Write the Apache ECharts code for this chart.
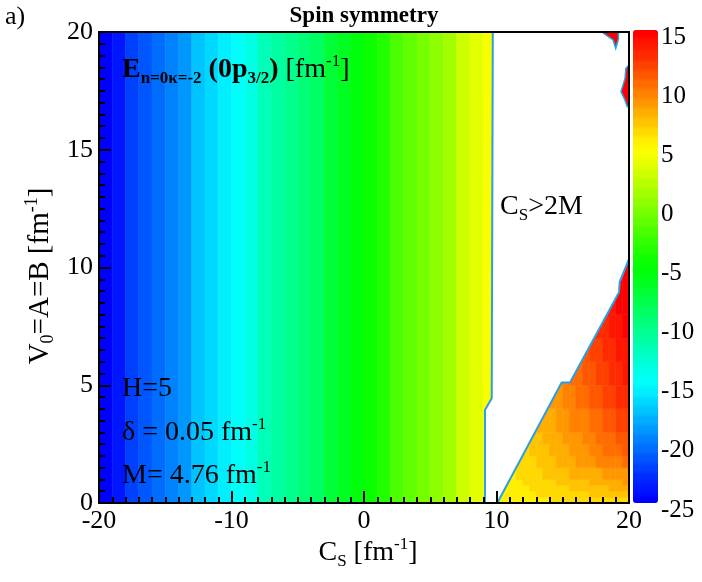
<!DOCTYPE html>
<html>
<head>
<meta charset="utf-8">
<title>Spin symmetry</title>
<script src="https://cdn.jsdelivr.net/npm/echarts@6/dist/echarts.min.js"></script>
<style>
  html, body { margin: 0; padding: 0; background: #fff; }
  #chart { width: 702px; height: 582px; }
</style>
</head>
<body>
<div id="chart"></div>
<script>
// left part: one column per fm^-1, energy read at the column centre
const leftEdges = [-20, -19, -18, -17, -16, -15, -14, -13, -12, -11, -10, -9, -8, -7, -6, -5, -4, -3, -2, -1,
  0, 1, 2, 3, 4, 5, 6, 7, 8, 9, 10];
const leftVals = [-24.5, -23.5, -22.4, -21.4, -20.4, -19.5, -18.4, -17.4, -16.4, -15.5, -14.5, -13.4, -12.4, -11.4, -10.5,
  -9.5, -8.4, -7.4, -6.4, -5.5, -4.5, -3.4, -2.4, -1.4, -0.5, 0.5, 1.6, 2.6, 3.6, 4.4];

// right border of the left part (x as a function of y)
const leftBorderY = [0, 3.95, 4.45, 20];
const leftBorderX = [9.13, 9.13, 9.64, 9.72];

// lower right wedge: columns of 0.5 fm^-1, rows bottom to top
const wedgeEdgesX = [10, 10.5, 11, 11.5, 12, 12.5, 13, 13.5, 14, 14.5, 15, 15.5, 16, 16.5, 17, 17.5, 18, 18.5, 19, 19.5, 20];
const wedgeEdgesY = [0, 0.25, 0.5, 0.75, 1, 1.5, 2, 2.5, 3, 4, 5, 6, 7, 8, 10.5];
const wedgeVals = [
  [5.3, 5.4, 5.4, 5.5, 5.6, 5.6, 5.7, 5.8, 5.9, 5.9, 6.0, 6.1, 6.1, 6.2, 6.3, 6.3, 6.4, 6.5, 6.5, 6.6],
  [5.3, 5.4, 5.5, 5.6, 5.7, 5.8, 5.9, 6.0, 6.1, 6.2, 6.3, 6.4, 6.5, 6.6, 6.7, 6.8, 6.9, 7.0, 7.1, 7.2],
  [5.3, 5.4, 5.6, 5.7, 5.8, 6.0, 6.1, 6.2, 6.4, 6.5, 6.6, 6.7, 6.9, 7.0, 7.1, 7.3, 7.4, 7.5, 7.7, 7.8],
  [5.3, 5.5, 5.6, 5.8, 6.0, 6.1, 6.3, 6.4, 6.6, 6.8, 6.9, 7.1, 7.2, 7.4, 7.6, 7.7, 7.9, 8.0, 8.2, 8.4],
  [5.3, 5.5, 5.7, 5.9, 6.1, 6.3, 6.5, 6.7, 6.9, 7.1, 7.3, 7.5, 7.7, 7.9, 8.1, 8.3, 8.5, 8.7, 8.9, 9.1],
  [5.3, 5.6, 5.8, 6.1, 6.3, 6.6, 6.9, 7.1, 7.4, 7.6, 7.9, 8.1, 8.4, 8.6, 8.9, 9.2, 9.4, 9.7, 9.9, 10.2],
  [5.3, 5.6, 5.9, 6.2, 6.5, 6.8, 7.1, 7.4, 7.7, 8.0, 8.3, 8.5, 8.8, 9.1, 9.4, 9.7, 10.0, 10.3, 10.6, 10.9],
  [5.3, 5.7, 6.0, 6.3, 6.6, 6.9, 7.2, 7.6, 7.9, 8.2, 8.5, 8.8, 9.1, 9.5, 9.8, 10.1, 10.4, 10.7, 11.1, 11.4],
  [5.3, 5.7, 6.1, 6.4, 6.8, 7.1, 7.5, 7.8, 8.2, 8.5, 8.9, 9.2, 9.6, 9.9, 10.3, 10.7, 11.0, 11.4, 11.7, 12.1],
  [5.3, 5.7, 6.1, 6.5, 6.9, 7.3, 7.7, 8.1, 8.5, 8.9, 9.3, 9.7, 10.1, 10.5, 10.9, 11.3, 11.7, 12.1, 12.5, 12.9],
  [5.3, 5.8, 6.2, 6.6, 7.1, 7.5, 7.9, 8.4, 8.8, 9.2, 9.7, 10.1, 10.5, 11.0, 11.4, 11.8, 12.3, 12.7, 13.1, 13.6],
  [5.4, 5.8, 6.3, 6.7, 7.2, 7.7, 8.1, 8.6, 9.0, 9.5, 10.0, 10.4, 10.9, 11.3, 11.8, 12.3, 12.7, 13.2, 13.6, 14.1],
  [5.4, 5.8, 6.3, 6.8, 7.3, 7.7, 8.2, 8.7, 9.2, 9.6, 10.1, 10.6, 11.1, 11.6, 12.0, 12.5, 13.0, 13.5, 13.9, 14.4],
  [5.4, 5.9, 6.4, 6.9, 7.4, 7.9, 8.4, 8.9, 9.4, 9.9, 10.4, 10.9, 11.4, 11.9, 12.4, 12.9, 13.4, 13.9, 14.4, 14.9]
];
// upper border of the wedge (y as a function of x)
const wedgeTopX = [10.06, 14.92, 15.55, 19.25, 19.3, 19.45, 20];
const wedgeTopY = [0, 5.12, 5.12, 8.95, 9.4, 9.47, 10.35];

// small spots near the top right corner
const spot1X = [17.94, 18.44, 18.8, 19.0, 19.2, 19.2];
const spot1Y = [20, 19.8, 19.66, 19.3, 19.7, 20];
const spot2X = [20, 19.77, 19.7, 19.4, 19.7, 19.87, 20];
const spot2Y = [18.6, 18.46, 18.03, 17.47, 17.1, 16.83, 16.8];
const spotVals = [14.6, 14.6];

const rainbow = ['#0000ff', '#00ffff', '#00ff00', '#ffff00', '#ff0000'];
const levels = 48;
const serif = "'Liberation Serif', 'Times New Roman', Times, serif";

// same colour steps as the map, repeated so the legend gradient looks banded
const barColors = [];
for (let i = 0; i < levels; i++) {
  const c = echarts.color.lerp(i / (levels - 1), rainbow);
  for (let k = 0; k < 8; k++) barColors.push(c);
}

function interp(ts, vs, t) {
  if (t <= ts[0]) return vs[0];
  for (let i = 1; i < ts.length; i++) {
    if (t <= ts[i]) {
      const a = ts[i - 1], b = ts[i];
      if (b === a) return vs[i];
      return vs[i - 1] + (vs[i] - vs[i - 1]) * (t - a) / (b - a);
    }
  }
  return vs[vs.length - 1];
}

// border clamped to [lo, hi], sampled on [a0, a1] at its kinks and crossings
function profile(ts, vs, a0, a1, lo, hi) {
  const pts = [a0];
  ts.forEach(t => { if (t > a0 && t < a1) pts.push(t); });
  pts.push(a1);
  const out = [];
  for (let i = 0; i < pts.length; i++) {
    out.push(pts[i]);
    if (i < pts.length - 1) {
      const p = pts[i], q = pts[i + 1];
      const fp = interp(ts, vs, p), fq = interp(ts, vs, q);
      [lo, hi].forEach(level => {
        if ((fp - level) * (fq - level) < 0) out.push(p + (level - fp) * (q - p) / (fq - fp));
      });
    }
  }
  out.sort((a, b) => a - b);
  return out.map(t => [t, Math.min(hi, Math.max(lo, interp(ts, vs, t)))]);
}

const cells = [];
for (let i = 0; i < leftVals.length; i++) {
  cells.push([leftEdges[i], leftEdges[i + 1], 0, 20, leftVals[i], 1]);
}
for (let r = 0; r < wedgeVals.length; r++) {
  for (let c = 0; c < wedgeVals[r].length; c++) {
    cells.push([wedgeEdgesX[c], wedgeEdgesX[c + 1], wedgeEdgesY[r], wedgeEdgesY[r + 1], wedgeVals[r][c], 2]);
  }
}
const spots = [[spot1X, spot1Y], [spot2X, spot2Y]];
const spotData = spotVals.map((v, i) => [i, 0, 0, 0, v]);

const leftLine = leftBorderX.map((x, i) => [x, leftBorderY[i]]);
const wedgeLine = wedgeTopX.map((x, i) => [x, wedgeTopY[i]]);

function renderCell(params, api) {
  const x0 = api.value(0), x1 = api.value(1), y0 = api.value(2), y1 = api.value(3);
  const kind = api.value(5);
  let poly;
  if (kind === 1) {
    const pr = profile(leftBorderY, leftBorderX, y0, y1, x0, x1);
    if (pr.every(p => p[1] <= x0 + 1e-9)) return null;
    poly = [[x0, y0]].concat(pr.map(p => [p[1], p[0]]), [[x0, y1]]);
  } else {
    const pr = profile(wedgeTopX, wedgeTopY, x0, x1, y0, y1);
    // keep only the part of the cell that lies under the border
    let k = -1;
    for (let i = 0; i < pr.length; i++) if (pr[i][1] <= y0 + 1e-9) k = i;
    if (k === pr.length - 1) return null;
    const top = pr.slice(Math.max(k, 0));
    poly = [[top[0][0], y0], [x1, y0]].concat(top.reverse());
  }
  const color = api.visual('color');
  return {
    type: 'polygon',
    shape: { points: poly.map(p => api.coord(p)) },
    style: { fill: color, stroke: color, lineWidth: 0.6 }
  };
}

function renderSpot(params, api) {
  const s = spots[api.value(0)];
  const pts = s[0].map((x, i) => api.coord([x, s[1][i]]));
  return {
    type: 'polygon',
    shape: { points: pts },
    style: { fill: api.visual('color'), stroke: '#1aa7e6', lineWidth: 1.5 }
  };
}

const chart = echarts.init(document.getElementById('chart'));

const tickStyle = { color: '#000', width: 2 };
const labelStyle = { fontFamily: serif, fontSize: 26, color: '#000' };

const option = {
  animation: false,
  backgroundColor: '#fff',
  grid: [
    { left: 99, top: 32, width: 530, height: 471 },
    { left: 633, top: 30, width: 25, height: 473 }
  ],
  xAxis: [
    {
      type: 'value', gridIndex: 0, min: -20, max: 20, interval: 10, z: 10,
      axisLine: { onZero: false, lineStyle: tickStyle },
      axisTick: { inside: true, length: 12, lineStyle: tickStyle },
      minorTick: { show: true, splitNumber: 10, length: 6, lineStyle: tickStyle },
      splitLine: { show: false },
      axisLabel: Object.assign({ margin: 5 }, labelStyle)
    },
    {
      type: 'value', gridIndex: 0, position: 'top', min: -20, max: 20, z: 10,
      axisLine: { onZero: false, lineStyle: tickStyle },
      axisTick: { show: false }, axisLabel: { show: false }, splitLine: { show: false }
    },
    { type: 'value', gridIndex: 1, min: 0, max: 1, show: false }
  ],
  yAxis: [
    {
      type: 'value', gridIndex: 0, min: 0, max: 20, interval: 5, z: 10,
      axisLine: { onZero: false, lineStyle: tickStyle },
      axisTick: { inside: true, length: 12, lineStyle: tickStyle },
      minorTick: { show: true, splitNumber: 10, length: 6, lineStyle: tickStyle },
      splitLine: { show: false },
      axisLabel: Object.assign({ margin: 6 }, labelStyle)
    },
    {
      type: 'value', gridIndex: 0, position: 'right', min: 0, max: 20, z: 10,
      axisLine: { onZero: false, lineStyle: tickStyle },
      axisTick: { show: false }, axisLabel: { show: false }, splitLine: { show: false }
    },
    {
      type: 'value', gridIndex: 1, position: 'right', min: -25, max: 15, interval: 5,
      axisLine: { show: false }, axisTick: { show: false }, splitLine: { show: false },
      axisLabel: { fontFamily: serif, fontSize: 25, color: '#000', margin: 3, verticalAlign: 'top', lineHeight: 14 }
    }
  ],
  visualMap: [
    {
      type: 'piecewise', show: false, seriesIndex: [0, 1], dimension: 4,
      min: -25, max: 15, splitNumber: levels, precision: 4,
      inRange: { color: rainbow }
    },
    {
      type: 'continuous', seriesIndex: 4, min: -25, max: 15,
      left: 633, top: 30, itemWidth: 25, itemHeight: 473, padding: 0,
      calculable: false, hoverLink: false, text: null,
      inRange: { color: barColors }
    }
  ],
  series: [
    {
      type: 'custom', xAxisIndex: 0, yAxisIndex: 0, clip: true, silent: true,
      encode: { x: [0, 1], y: [2, 3] },
      renderItem: renderCell, data: cells
    },
    {
      type: 'custom', xAxisIndex: 0, yAxisIndex: 0, clip: true, silent: true,
      renderItem: renderSpot, data: spotData, z: 3
    },
    {
      type: 'line', xAxisIndex: 0, yAxisIndex: 0, data: leftLine, showSymbol: false, silent: true, z: 4,
      lineStyle: { color: '#2a9fe8', width: 2 }
    },
    {
      type: 'line', xAxisIndex: 0, yAxisIndex: 0, data: wedgeLine, showSymbol: false, silent: true, z: 4,
      lineStyle: { color: '#2a9fe8', width: 2 }
    },
    { type: 'scatter', xAxisIndex: 2, yAxisIndex: 2, data: [] }
  ],
  graphic: [
    {
      type: 'text', x: 5, y: 17, z: 20,
      style: { text: 'a)', fontFamily: serif, fontSize: 26, fill: '#000', verticalAlign: 'middle' }
    },
    {
      type: 'text', x: 364, y: 16, z: 20,
      style: { text: 'Spin symmetry', fontFamily: serif, fontSize: 23, fontWeight: 'bold', fill: '#000',
        align: 'center', verticalAlign: 'middle' }
    },
    {
      type: 'text', x: 122, y: 70, z: 20,
      style: {
        text: '{b|E}{bs|n=0κ=-2}{b| (0p}{bs|3/2}{b|)}{n| [fm}{sup|-1}{n|]}',
        verticalAlign: 'middle',
        rich: {
          b: { fontFamily: serif, fontSize: 28, fontWeight: 'bold', fill: '#000', lineHeight: 34 },
          bs: { fontFamily: serif, fontSize: 17, fontWeight: 'bold', fill: '#000', lineHeight: 17, verticalAlign: 'bottom' },
          n: { fontFamily: serif, fontSize: 28, fill: '#000', lineHeight: 34 },
          sup: { fontFamily: serif, fontSize: 17, fill: '#000', lineHeight: 17, verticalAlign: 'top' }
        }
      }
    },
    {
      type: 'text', x: 500, y: 207, z: 20,
      style: {
        text: '{n|C}{sub|S}{n|>2M}', verticalAlign: 'middle',
        rich: {
          n: { fontFamily: serif, fontSize: 28, fill: '#000', lineHeight: 34 },
          sub: { fontFamily: serif, fontSize: 17, fill: '#000', lineHeight: 17, verticalAlign: 'bottom' }
        }
      }
    },
    {
      type: 'text', x: 122, y: 389, z: 20,
      style: { text: 'H=5', fontFamily: serif, fontSize: 28, fill: '#000', verticalAlign: 'middle' }
    },
    {
      type: 'text', x: 122, y: 433, z: 20,
      style: {
        text: '{n|δ = 0.05 fm}{sup|-1}', verticalAlign: 'middle',
        rich: {
          n: { fontFamily: serif, fontSize: 28, fill: '#000', lineHeight: 34 },
          sup: { fontFamily: serif, fontSize: 17, fill: '#000', lineHeight: 17, verticalAlign: 'top' }
        }
      }
    },
    {
      type: 'text', x: 122, y: 476, z: 20,
      style: {
        text: '{n|M= 4.76 fm}{sup|-1}', verticalAlign: 'middle',
        rich: {
          n: { fontFamily: serif, fontSize: 28, fill: '#000', lineHeight: 34 },
          sup: { fontFamily: serif, fontSize: 17, fill: '#000', lineHeight: 17, verticalAlign: 'top' }
        }
      }
    },
    {
      type: 'text', x: 368, y: 553, z: 20,
      style: {
        text: '{n|C}{sub|S}{n| [fm}{sup|-1}{n|]}', align: 'center', verticalAlign: 'middle',
        rich: {
          n: { fontFamily: serif, fontSize: 28, fill: '#000', lineHeight: 34 },
          sub: { fontFamily: serif, fontSize: 17, fill: '#000', lineHeight: 17, verticalAlign: 'bottom' },
          sup: { fontFamily: serif, fontSize: 17, fill: '#000', lineHeight: 17, verticalAlign: 'top' }
        }
      }
    },
    {
      type: 'text', x: 40, y: 276, rotation: Math.PI / 2, z: 20,
      style: {
        text: '{n|V}{sub|0}{n|=A=B [fm}{sup|-1}{n|]}', align: 'center', verticalAlign: 'middle',
        rich: {
          n: { fontFamily: serif, fontSize: 29, fill: '#000', lineHeight: 34 },
          sub: { fontFamily: serif, fontSize: 18, fill: '#000', lineHeight: 18, verticalAlign: 'bottom' },
          sup: { fontFamily: serif, fontSize: 18, fill: '#000', lineHeight: 18, verticalAlign: 'top' }
        }
      }
    }
  ]
};

chart.setOption(option);
</script>
</body>
</html>
